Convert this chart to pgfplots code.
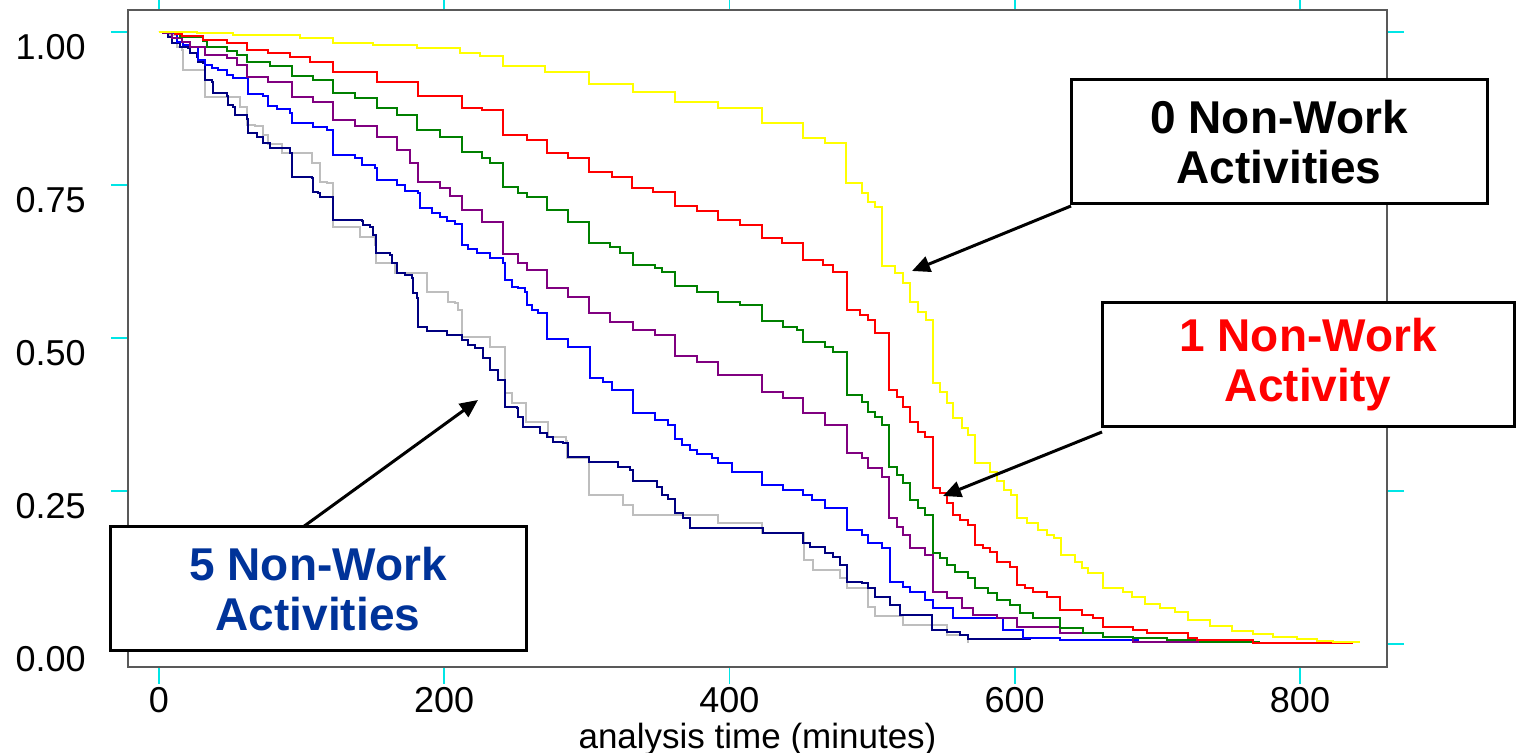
\documentclass[border=0pt]{standalone}
\usepackage{fontspec}
\setmainfont{Liberation Sans}
\usepackage{pgfplots}
\pgfplotsset{compat=1.18}
\usetikzlibrary{arrows.meta,calc}
\definecolor{kmyellow}{RGB}{255,255,0}
\definecolor{kmred}{RGB}{255,0,0}
\definecolor{kmgreen}{RGB}{0,128,0}
\definecolor{kmpurple}{RGB}{128,0,128}
\definecolor{kmblue}{RGB}{0,0,255}
\definecolor{kmnavy}{RGB}{0,0,128}
\definecolor{kmgray}{RGB}{190,190,190}
\definecolor{boxblue}{RGB}{0,51,153}
\definecolor{tickcyan}{RGB}{0,230,230}

\begin{document}
\begin{tikzpicture}
\begin{axis}[name=ax, scale only axis,
    width=629.5pt, height=328.5pt,
    xmin=-21.7, xmax=861, ymin=-0.0376, ymax=1.0359,
    xtick={0,200,400,600,800},
    ytick={0,0.25,0.5,0.75,1},
    yticklabel style={/pgf/number format/fixed,/pgf/number format/fixed zerofill,/pgf/number format/precision=2},
    /pgf/number format/assume math mode=true,
    tick align=outside, major tick length=8.5pt,
    tick style={tickcyan,line width=0.8pt},
    axis line style={black!65,line width=0.8pt},
    ticklabel style={font=\fontsize{18}{20}\selectfont},
    xticklabel style={anchor=north,inner sep=0pt,yshift=-1.5pt},
    yticklabel style={anchor=north east,inner sep=0pt,xshift=-12.5pt,yshift=-1pt},
    xlabel={analysis time (minutes)},
    xlabel style={font=\fontsize{17.5}{19}\selectfont,inner sep=0pt,at={(axis description cs:0.5,0)},anchor=center,yshift=-36pt},
    every axis plot/.append style={const plot,line width=0.9pt},
  ]
% 6 Non-Work activities (grey)
\addplot[kmgray] coordinates {(0,1.000)(6.3,0.995)(12.6,0.975)(16.1,0.971)(16.8,0.938)(32.3,0.894)(56.8,0.877)(61.7,0.848)(67.3,0.846)(72.9,0.832)(76.4,0.817)(86.3,0.802)(107.3,0.786)(112.9,0.755)(117.8,0.753)(122.0,0.681)(141.0,0.665)(151.5,0.652)(152.2,0.623)(165.5,0.606)(187.9,0.575)(202.7,0.559)(207.6,0.557)(209.7,0.546)(212.5,0.502)(232.1,0.485)(242.6,0.410)(247.5,0.394)(257.4,0.363)(272.8,0.338)(285.4,0.332)(286.1,0.304)(301.5,0.243)(325.4,0.227)(332.4,0.211)(392.0,0.198)(422.9,0.181)(452.3,0.137)(458.6,0.121)(477.6,0.108)(482.5,0.092)(497.2,0.060)(502.1,0.046)(521.7,0.031)(552.6,0.015)(567.3,0.002)};
% 5 Non-Work activities (navy)
\addplot[kmnavy] coordinates {(0,1.000)(2.8,0.998)(6.3,0.992)(9.1,0.982)(14.7,0.975)(20.3,0.974)(21.7,0.966)(26.6,0.959)(27.3,0.951)(30.9,0.949)(32.3,0.922)(37.2,0.918)(37.9,0.900)(47.7,0.895)(48.4,0.881)(51.9,0.877)(53.3,0.864)(61.7,0.858)(62.4,0.835)(68.7,0.828)(72.9,0.819)(77.8,0.810)(91.9,0.802)(93.3,0.763)(107.3,0.761)(108.0,0.739)(111.5,0.737)(112.9,0.730)(122.0,0.693)(142.4,0.691)(143.1,0.685)(148.0,0.681)(150.1,0.668)(152.2,0.639)(162.0,0.636)(163.4,0.623)(166.9,0.606)(172.5,0.603)(177.4,0.598)(178.1,0.574)(180.9,0.565)(181.6,0.518)(187.9,0.511)(202.0,0.505)(212.5,0.497)(216.7,0.489)(221.6,0.484)(227.2,0.467)(232.1,0.448)(237.7,0.431)(242.6,0.387)(251.1,0.386)(251.8,0.371)(255.3,0.355)(267.2,0.345)(272.1,0.338)(276.3,0.330)(283.3,0.328)(286.8,0.306)(301.5,0.297)(321.9,0.289)(330.3,0.284)(332.4,0.266)(349.2,0.257)(352.7,0.243)(356.9,0.237)(361.9,0.214)(367.5,0.206)(372.4,0.190)(423.6,0.181)(451.6,0.165)(456.5,0.158)(467.0,0.149)(472.6,0.142)(477.6,0.129)(482.5,0.101)(493.0,0.100)(497.2,0.092)(502.1,0.077)(512.6,0.064)(519.6,0.047)(542.1,0.023)(552.6,0.020)(561.7,0.015)(567.3,0.008)(610.8,0.007)};
% 4 (blue)
\addplot[kmblue] coordinates {(0,1.000)(5.6,0.998)(12.6,0.984)(16.8,0.979)(21.7,0.975)(27.3,0.954)(32.3,0.946)(37.2,0.941)(41.4,0.938)(47.7,0.930)(51.9,0.925)(62.4,0.899)(72.9,0.895)(76.4,0.879)(82.7,0.874)(91.9,0.868)(93.3,0.851)(108.0,0.845)(117.8,0.840)(122.0,0.799)(137.4,0.794)(142.4,0.783)(151.5,0.778)(152.9,0.758)(166.9,0.750)(172.5,0.740)(181.6,0.737)(183.0,0.712)(191.4,0.704)(197.1,0.698)(202.0,0.691)(207.6,0.686)(212.5,0.652)(216.7,0.645)(223.0,0.639)(232.1,0.631)(241.2,0.623)(242.6,0.595)(247.5,0.583)(251.8,0.582)(256.7,0.575)(258.1,0.554)(261.6,0.546)(265.8,0.541)(272.1,0.498)(286.8,0.485)(302.2,0.435)(311.4,0.428)(317.7,0.415)(332.4,0.377)(347.8,0.366)(356.9,0.358)(361.9,0.335)(366.8,0.325)(372.4,0.317)(377.3,0.310)(387.8,0.304)(392.0,0.296)(401.8,0.281)(422.9,0.260)(437.6,0.252)(451.6,0.243)(457.9,0.235)(467.0,0.222)(482.5,0.186)(493.0,0.178)(497.2,0.165)(507.0,0.157)(512.6,0.101)(521.7,0.093)(526.6,0.085)(537.2,0.072)(542.8,0.059)(556.8,0.042)(591.9,0.023)(605.9,0.010)(631.8,0.007)(687.0,0.007)};
% 3 (purple)
\addplot[kmpurple] coordinates {(0,1.000)(2.8,0.998)(9.1,0.990)(16.1,0.984)(21.7,0.975)(32.3,0.962)(47.7,0.958)(54.7,0.946)(61.7,0.926)(76.4,0.918)(93.3,0.894)(108.0,0.886)(122.0,0.856)(137.4,0.846)(152.9,0.828)(166.9,0.807)(176.0,0.786)(181.6,0.755)(197.1,0.745)(204.1,0.732)(212.5,0.709)(226.5,0.690)(241.2,0.637)(251.8,0.623)(258.1,0.611)(272.1,0.582)(286.8,0.567)(301.5,0.541)(316.3,0.526)(332.4,0.513)(347.8,0.505)(361.9,0.471)(377.3,0.461)(392.0,0.440)(422.9,0.412)(437.6,0.402)(451.6,0.377)(467.0,0.358)(482.5,0.312)(493.0,0.304)(497.2,0.288)(507.0,0.273)(511.9,0.206)(517.5,0.191)(521.7,0.178)(526.6,0.157)(537.2,0.145)(542.8,0.085)(552.6,0.075)(563.1,0.059)(570.8,0.047)(587.7,0.042)(601.7,0.028)(631.8,0.018)(662.0,0.011)(683.0,0.003)(767.2,0.003)};
% 2 (green)
\addplot[kmgreen] coordinates {(0,1.000)(14.7,0.992)(30.9,0.985)(33.7,0.975)(47.7,0.969)(54.7,0.962)(61.7,0.951)(77.8,0.944)(93.3,0.928)(108.0,0.922)(122.0,0.900)(137.4,0.892)(152.9,0.876)(166.9,0.864)(180.9,0.840)(197.1,0.828)(212.5,0.804)(226.5,0.794)(232.1,0.786)(241.2,0.747)(251.8,0.737)(258.1,0.730)(272.1,0.709)(286.8,0.690)(301.5,0.655)(316.3,0.649)(323.3,0.639)(332.4,0.619)(347.8,0.614)(352.7,0.608)(361.9,0.585)(377.3,0.575)(392.0,0.559)(407.4,0.554)(422.9,0.528)(437.6,0.518)(447.4,0.513)(451.6,0.493)(467.0,0.485)(472.6,0.477)(482.5,0.407)(493.0,0.395)(497.2,0.379)(502.1,0.371)(507.0,0.358)(511.9,0.289)(517.5,0.276)(521.7,0.263)(526.6,0.235)(532.3,0.222)(537.2,0.211)(542.8,0.149)(547.7,0.141)(552.6,0.129)(558.2,0.118)(567.3,0.108)(572.2,0.092)(581.3,0.083)(587.7,0.072)(596.8,0.064)(603.8,0.051)(612.9,0.042)(631.8,0.026)(648.0,0.018)(662.0,0.011)(683.0,0.010)(706.9,0.007)(730.0,0.003)(772.1,0.003)};
% 1 (red)
\addplot[kmred] coordinates {(0,1.000)(11.2,0.997)(16.1,0.993)(30.9,0.987)(47.7,0.982)(61.7,0.971)(76.4,0.966)(91.9,0.959)(105.9,0.951)(122.0,0.935)(152.9,0.918)(181.6,0.895)(212.5,0.876)(226.5,0.873)(241.2,0.832)(258.1,0.824)(272.1,0.802)(286.8,0.794)(301.5,0.771)(317.7,0.763)(331.7,0.745)(346.4,0.739)(361.9,0.716)(377.3,0.708)(392.0,0.693)(407.4,0.685)(422.9,0.663)(436.9,0.655)(451.6,0.627)(465.6,0.619)(472.6,0.608)(482.5,0.546)(491.6,0.538)(497.2,0.529)(502.1,0.508)(511.9,0.415)(517.5,0.404)(521.7,0.387)(526.6,0.363)(532.3,0.346)(537.2,0.338)(542.8,0.255)(547.7,0.247)(552.6,0.230)(556.8,0.211)(561.7,0.203)(567.3,0.194)(572.2,0.162)(577.8,0.157)(582.7,0.150)(587.7,0.134)(596.8,0.126)(601.7,0.096)(607.3,0.092)(612.9,0.085)(622.7,0.077)(631.8,0.056)(647.3,0.047)(655.0,0.042)(662.0,0.028)(683.0,0.023)(692.8,0.018)(721.6,0.010)(727.9,0.007)(767.2,0.002)(837.3,0.002)};
% 0 (yellow)
\addplot[kmyellow] coordinates {(0,1.000)(26.6,0.998)(51.9,0.995)(99.0,0.990)(122.0,0.982)(150.1,0.979)(181.0,0.974)(211.1,0.966)(225.1,0.961)(241.2,0.944)(270.7,0.935)(301.5,0.915)(332.4,0.902)(361.9,0.886)(392.0,0.876)(422.9,0.851)(451.6,0.827)(467.0,0.819)(481.8,0.753)(493.0,0.737)(497.2,0.722)(502.1,0.714)(507.0,0.618)(516.1,0.606)(521.7,0.590)(526.6,0.559)(532.3,0.542)(537.9,0.529)(542.8,0.426)(547.7,0.412)(552.6,0.394)(556.8,0.369)(563.1,0.353)(567.3,0.342)(572.2,0.296)(582.7,0.281)(587.7,0.266)(592.6,0.252)(597.5,0.243)(601.7,0.206)(608.7,0.198)(616.4,0.186)(622.7,0.178)(627.6,0.173)(632.5,0.145)(642.4,0.134)(647.3,0.124)(651.5,0.116)(662.0,0.092)(676.0,0.085)(682.3,0.077)(691.4,0.065)(701.9,0.059)(712.4,0.052)(721.6,0.039)(737.0,0.029)(752.5,0.021)(767.2,0.016)(781.2,0.011)(798.0,0.008)(812.1,0.005)(823.3,0.003)(842.2,0.003)};
\end{axis}
% pixel-based frame: x right, y down, origin at image top-left
\begin{scope}[shift={($(ax.south west)+(-64pt,333.5pt)$)},x=0.5pt,y=-0.5pt]
  \draw[line width=1.5pt,-{Triangle[length=9pt,width=8pt]}] (1071,206) -- (912,271);
  \draw[line width=1.5pt,-{Triangle[length=9pt,width=8pt]}] (1102,432) -- (943,496);
  \draw[line width=1.5pt,-{Triangle[length=9pt,width=8pt]}] (303,527) -- (478,400);
  \node[draw,line width=1.5pt,fill=white,minimum width=208pt,minimum height=62pt,align=center,
        font=\fontsize{23}{25}\selectfont\bfseries] at (1279,142) {0 Non-Work\\Activities};
  \node[draw,line width=1.5pt,fill=white,minimum width=206pt,minimum height=62pt,align=center,
        font=\fontsize{23}{25}\selectfont\bfseries,text=red] at (1308,365) {1 Non-Work\\Activity};
  \node[draw,line width=1.5pt,fill=white,minimum width=208pt,minimum height=62pt,align=center,
        font=\fontsize{23}{25}\selectfont\bfseries,text=boxblue] at (318,589) {5 Non-Work\\Activities};
  \pgfresetboundingbox
  \path[use as bounding box] (0,0) rectangle (1524,753);
\end{scope}
\end{tikzpicture}
\end{document}
